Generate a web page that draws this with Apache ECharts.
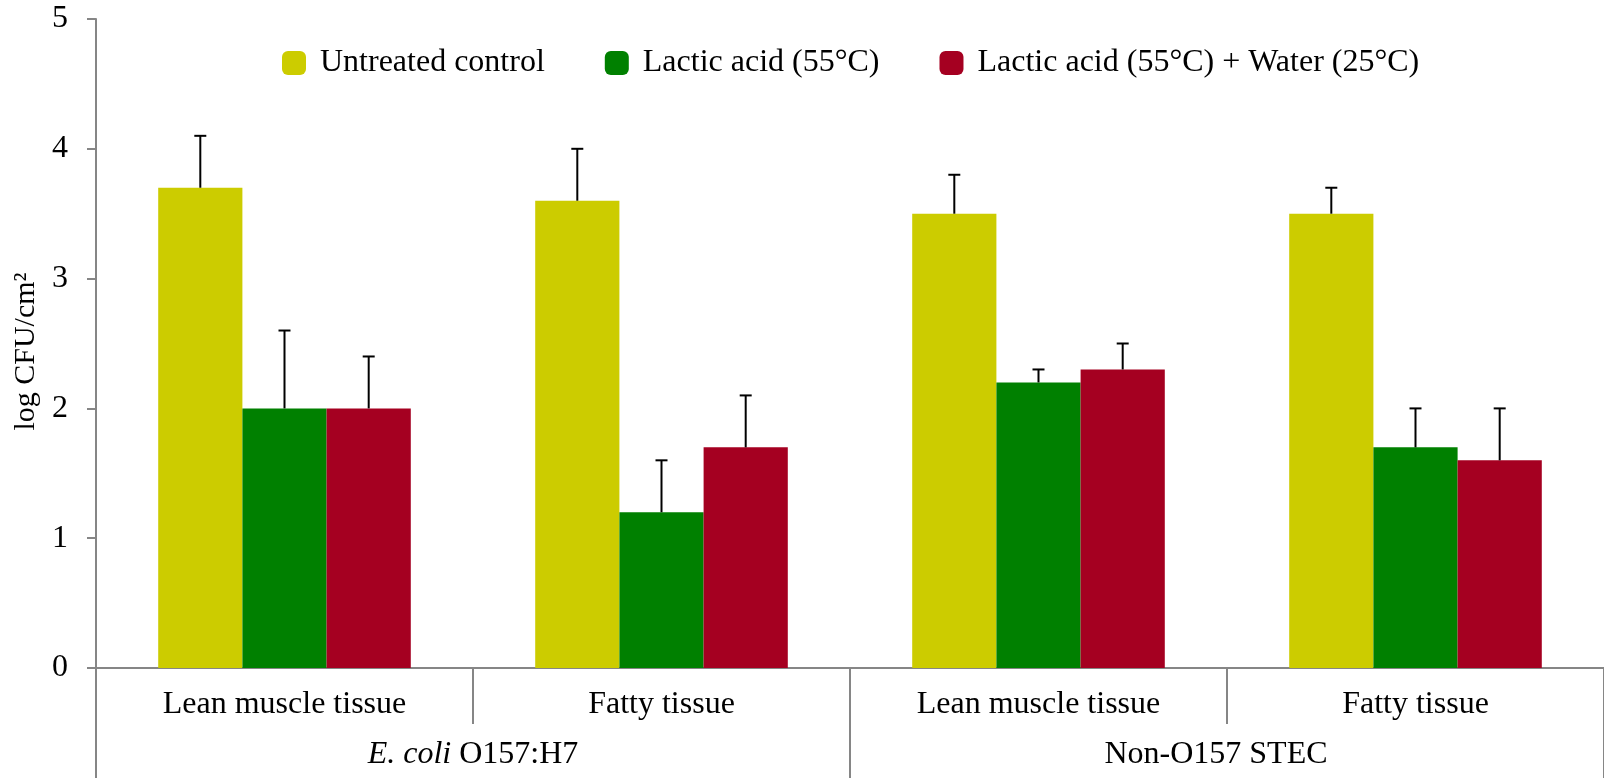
<!DOCTYPE html>
<html>
<head>
<meta charset="utf-8">
<script src="https://cdn.jsdelivr.net/npm/echarts@6/dist/echarts.min.js"></script>
<style>
html,body{margin:0;padding:0;background:#fff;}
#chart{width:1604px;height:778px;}
</style>
</head>
<body>
<div id="chart"></div>
<script>
const categories = ['Lean muscle tissue', 'Fatty tissue', 'Lean muscle tissue', 'Fatty tissue'];
const groups = ['E. coli O157:H7', 'Non-O157 STEC'];
const seriesNames = ['Untreated control', 'Lactic acid (55°C)', 'Lactic acid (55°C) + Water (25°C)'];
const untreated = [3.7, 3.6, 3.5, 3.5];
const lactic = [2.0, 1.2, 2.2, 1.7];
const lacticWater = [2.0, 1.7, 2.3, 1.6];
const untreatedErr = [0.4, 0.4, 0.3, 0.2];
const lacticErr = [0.6, 0.4, 0.1, 0.3];
const lacticWaterErr = [0.4, 0.4, 0.2, 0.4];
const yTicks = [0, 1, 2, 3, 4, 5];

const colors = ['#CCCC00', '#008000', '#A50021'];
const FONT = 'Liberation Serif';
const AXIS = '#868686';
const GAP = 0.33;

const values = [untreated, lactic, lacticWater];
const errs = [untreatedErr, lacticErr, lacticWaterErr];

const chart = echarts.init(document.getElementById('chart'), null, {renderer: 'canvas'});

const barSeries = values.map((v, i) => ({
  name: seriesNames[i],
  type: 'bar',
  data: v,
  barGap: '0%',
  barCategoryGap: (GAP * 100) + '%',
  itemStyle: {color: colors[i]},
  z: 2
}));

const errSeries = values.map((v, i) => ({
  type: 'custom',
  xAxisIndex: 0,
  yAxisIndex: 0,
  z: 5,
  silent: true,
  data: v.map((val, j) => [j, val, val + errs[i][j]]),
  renderItem: function (params, api) {
    const base = api.coord([api.value(0), api.value(1)]);
    const top = api.coord([api.value(0), api.value(2)]);
    const catW = api.size([1, 0])[0];
    const bw = catW * (1 - GAP) / 3;
    const cx = base[0] + (i - 1) * bw;
    const half = 6;
    const style = {stroke: '#000', lineWidth: 2};
    return {
      type: 'group',
      children: [
        {type: 'line', shape: {x1: cx, y1: base[1], x2: cx, y2: top[1]}, style: style},
        {type: 'line', shape: {x1: cx - half, y1: top[1], x2: cx + half, y2: top[1]}, style: style}
      ]
    };
  }
}));

const groupData = groups.map((g, k) => k === 1
  ? {value: g, textStyle: {padding: [0, 22, 0, 0]}}
  : g);

const option = {
  animation: false,
  backgroundColor: '#fff',
  textStyle: {fontFamily: FONT, color: '#000'},
  legend: {
    data: seriesNames,
    left: 277,
    top: 42,
    icon: 'roundRect',
    itemWidth: 24,
    itemHeight: 24,
    itemGap: 60,
    textStyle: {fontFamily: FONT, fontSize: 32, color: '#000', padding: [0, 0, 0, 9]}
  },
  grid: {left: 96, top: 19, width: 1520, height: 649, containLabel: false},
  xAxis: [
    {
      type: 'category',
      data: categories,
      position: 'bottom',
      axisLine: {show: true, lineStyle: {color: AXIS, width: 2}},
      axisTick: {show: true, interval: 0, length: 56, lineStyle: {color: AXIS, width: 2}},
      axisLabel: {interval: 0, margin: 21, fontFamily: FONT, fontSize: 32, color: '#000'}
    },
    {
      type: 'category',
      data: groupData,
      position: 'bottom',
      offset: 56,
      axisLine: {show: false},
      axisTick: {show: true, interval: 0, length: 60, lineStyle: {color: AXIS, width: 2}},
      axisLabel: {
        interval: 0, margin: 15, fontFamily: FONT, fontSize: 32, color: '#000',
        formatter: function (v) {
          if (v.indexOf('E. coli') === 0) return '{i|E. coli}' + v.slice(7);
          return v;
        },
        rich: {i: {fontStyle: 'italic', fontFamily: FONT, fontSize: 32, color: '#000'}}
      }
    }
  ],
  yAxis: {
    type: 'value',
    min: yTicks[0],
    max: yTicks[yTicks.length - 1],
    interval: 1,
    name: 'log CFU/cm²',
    nameLocation: 'middle',
    nameGap: 55,
    nameRotate: 90,
    nameTextStyle: {fontFamily: FONT, fontSize: 30, color: '#000', padding: [0, 16, 0, 0]},
    axisLine: {show: true, lineStyle: {color: AXIS, width: 2}},
    axisTick: {show: true, length: 9, lineStyle: {color: AXIS, width: 2}},
    axisLabel: {margin: 28, fontFamily: FONT, fontSize: 32, color: '#000'},
    splitLine: {show: false}
  },
  series: barSeries.concat(errSeries)
};
chart.setOption(option);
</script>
</body>
</html>
